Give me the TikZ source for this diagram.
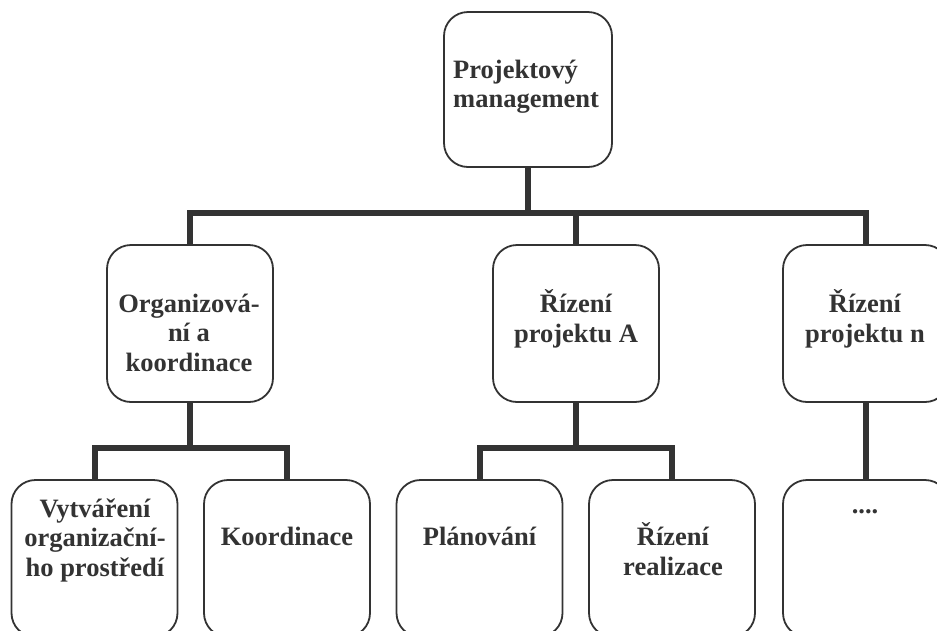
\documentclass[tikz,border=0pt]{standalone}
\usepackage{fontspec}
\setmainfont{Liberation Serif}
\definecolor{ink}{HTML}{333333}
\begin{document}
\begin{tikzpicture}[x=1pt,y=-1pt,
  box/.style={draw=ink, line width=1.8pt, rounded corners=24pt, fill=white,
    minimum width=166pt, minimum height=157pt, inner sep=0pt},
  conn/.style={draw=ink, line width=6pt, line join=miter},
  lbl/.style={text=ink, inner sep=0pt, anchor=north,
    font=\fontsize{26.5}{29.5}\selectfont\bfseries, align=center}]
\clip (0,0) rectangle (937,630);
\fill[white] (0,0) rectangle (937,630);
% boxes
\node[box, minimum width=168pt, minimum height=155pt] (top) at (528,89.5) {};
\node[box] (org) at (190,323.5) {};
\node[box] (pa) at (576,323.5) {};
\node[box] (pn) at (866,323.5) {};
\node[box] (b1) at (94.5,558.5) {};
\node[box] (b2) at (287,558.5) {};
\node[box] (b3) at (479.5,558.5) {};
\node[box] (b4) at (672,558.5) {};
\node[box] (b5) at (866,558.5) {};
% buses
\coordinate (busA) at (0,213);
\coordinate (busB) at (0,448);
% connectors
\draw[conn] (top.south) -- (top.south |- busA);
\draw[conn] (org.north) -- (org.north |- busA) -- (pn.north |- busA) -- (pn.north);
\draw[conn] (pa.north) -- (pa.north |- busA);
\draw[conn] (org.south) -- (org.south |- busB);
\draw[conn] (b1.north) -- (b1.north |- busB) -- (b2.north |- busB) -- (b2.north);
\draw[conn] (pa.south) -- (pa.south |- busB);
\draw[conn] (b3.north) -- (b3.north |- busB) -- (b4.north |- busB) -- (b4.north);
\draw[conn] (pn.south) -- (b5.north);
% texts
\node[lbl, anchor=north west, align=left] (ttop) at (453,57.35) {\strut Projektový\\\strut management};
\node[lbl] (torg) at (189,291.35) {\strut Organizová-\\\strut ní a\\\strut koordinace};
\node[lbl] (tpa) at (576,289.35) {\strut Řízení\\\strut projektu A};
\node[lbl] (tpn) at (865,289.35) {\strut Řízení\\\strut projektu n};
\node[lbl] (tb1) at (95,496.35) {\strut Vytváření\\\strut organizační-\\\strut ho prostředí};
\node[lbl] (tb2) at (287,524.35) {\strut Koordinace};
\node[lbl] (tb3) at (479.5,524.35) {\strut Plánování};
\node[lbl] (tb4) at (673,522.35) {\strut Řízení\\\strut realizace};
\node[lbl] (tb5) at (865,492.35) {\strut ....};
\end{tikzpicture}
\end{document}
